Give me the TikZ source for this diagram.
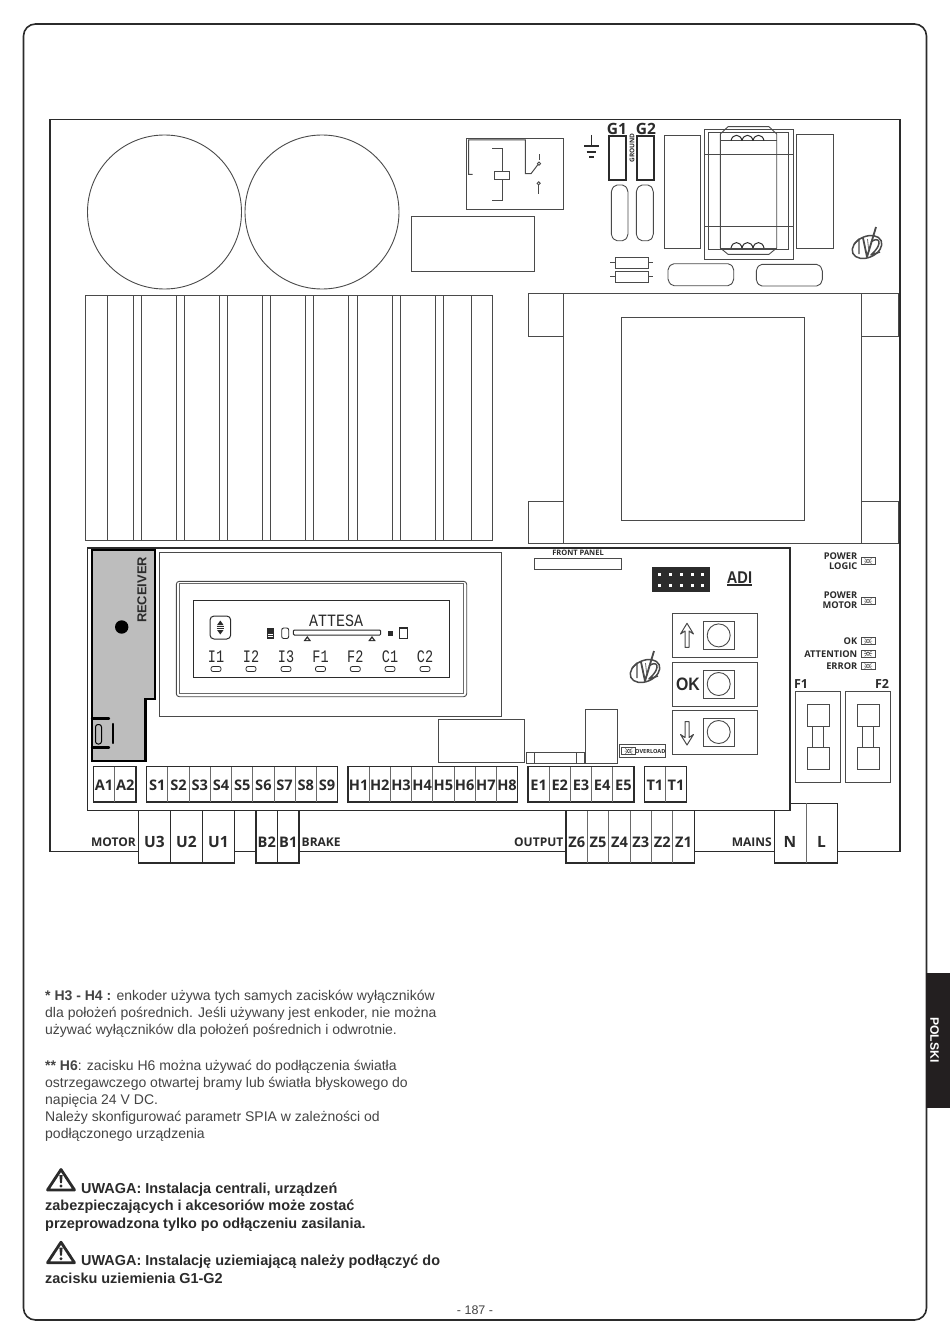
\documentclass[tikz,border=0pt]{standalone}
\usepackage{fontspec}
\setmainfont{Liberation Sans}
\newfontfamily\labfont{Open Sans}
\newfontfamily\lcdfont{Liberation Mono}
\definecolor{ink}{HTML}{2B2B2B}
\definecolor{line}{HTML}{4A4A4A}
\definecolor{soft}{HTML}{6A6A6A}
\definecolor{body}{HTML}{444444}
\definecolor{recv}{HTML}{BDBDBD}
\definecolor{tabfill}{HTML}{231F20}
\newcommand\fs[1]{\fontsize{#1}{#1}\selectfont}
\tikzset{
  thin line/.style={draw=line,line width=0.9pt},
  heavy line/.style={draw=ink,line width=1.5pt},
  lab/.style={inner sep=0pt,text=ink,font=\labfont\bfseries\fs{12}},
  term/.style={inner sep=0pt,text=ink,font=\labfont\bfseries\fs{14.6}},
  bigterm/.style={inner sep=0pt,text=ink,font=\labfont\bfseries\fs{15.5}},
  small lab/.style={inner sep=0pt,text=ink,font=\labfont\bfseries\fs{9.3}},
  lcd/.style={inner sep=0pt,text=ink,font=\lcdfont\fs{13.5}},
  para/.style={inner sep=0pt,anchor=north west,align=left,text=body,font=\fs{14}},
  warn/.style={inner sep=0pt,anchor=north west,align=left,text=ink,font=\bfseries\fs{14.45}},
}
\newcommand\termshift{1}
% terminal row: prefix, x0, y0, cell width, height, style, names
\newcommand\termrow[7]{%
  \foreach \lbl [count=\i] in {#7} {
    \pgfmathsetmacro\cx{#2+(\i-0.5)*#4}
    \pgfmathsetmacro\dx{#2+(\i-1)*#4}
    \pgfmathsetmacro\yc{#3+#5/2+\termshift}
    \pgfmathsetmacro\yb{#3+#5}
    \ifnum\i>1 \draw[draw=soft,line width=1pt] (\dx,#3) -- (\dx,\yb);\fi
    \node[#6] (#1\i) at (\cx,\yc) {\lbl};
  }
}
\newcommand\ledsym[2]{%
  \begin{scope}[shift={(#1,#2)}]
    \draw[draw=line,line width=0.6pt] (-7,-3.5) rectangle (7,3.5);
    \draw[draw=line,line width=0.6pt] (0,0) circle (1.8);
    \draw[draw=line,line width=0.5pt] (-3.5,-2.5)--(-1.5,-1.2) (3.5,-2.5)--(1.5,-1.2) (-3.5,2.5)--(-1.5,1.2) (3.5,2.5)--(1.5,1.2) (-4,0)--(-2,0) (4,0)--(2,0);
  \end{scope}}
\newcommand\vlogo[2]{%
  \begin{scope}[shift={(#1,#2)}]
    \draw[draw=line,line width=1.5pt,shift={(1,2)},rotate=24] (0,0) ellipse (15.5 and 10.5);
    \draw[draw=line,line width=1.4pt,line join=round] (-12,-1)--(-7,-6)--(-7,9);
    \draw[draw=line,line width=1.8pt,line join=round] (-3,-7)--(1,12)--(10,-18);
    \draw[draw=soft,line width=0.8pt] (1.5,-6)--(2.6,4);
    \draw[draw=line,line width=1.5pt,line join=round] (5,-3) .. controls (12,-9) and (19,-3) .. (5,10) -- (14,7);
  \end{scope}}
\newcommand\warnsign[2]{%
  \begin{scope}[shift={(#1,#2)}]
    \draw[draw=ink,line width=2.8pt,line join=round,fill=white] (15,1.5)--(1.5,22)--(28.5,22)--cycle;
    \fill[ink] (13.4,7)--(16.6,7)--(15.9,15)--(14.1,15)--cycle;
    \fill[ink] (15,18) circle (1.6);
  \end{scope}}
\begin{document}
\begin{tikzpicture}[x=1pt,y=-1pt]
\useasboundingbox (0,0) rectangle (950,1343);
\fill[white] (0,0) rectangle (950,1343);
% page frame
\draw[draw=ink,line width=1.6pt,rounded corners=12pt] (23.5,24) rectangle (926.5,1320);
\fill[tabfill] (926,973) rectangle (950,1108);
\node[inner sep=0pt,rotate=-90,text=white,font=\bfseries\fs{12.2}] (tab) at (934.5,1040) {POLSKI};
% outer board
\draw[heavy line] (50,119.5) rectangle (900,851.7);
% big capacitors
\draw[thin line] (164.5,212) circle (77);
\draw[thin line] (322,212) circle (77);
% relay
\draw[thin line] (466.3,138.3) rectangle (563,209.3);
\draw[draw=line,line width=1pt] (472.5,174.3)--(468.5,174.3)--(468.5,139.8)--(525.3,139.8)--(525.3,173.7)--(531,173.7)--(538,164.5);
\draw[thin line] (539,160)--(539,154);
\draw[thin line,fill=white] (539,163.7) circle (1.6);
\draw[thin line,fill=white] (538.7,183.3) circle (1.6);
\draw[thin line] (538.7,185)--(538.7,194.3);
\draw[thin line] (492.3,148.7)--(502,148.7)--(502,171.3);
\draw[thin line] (502,179.7)--(502,200)--(492.3,200);
\draw[thin line] (494.7,171.3) rectangle (509.3,179.7);
\draw[thin line] (411,216.7) rectangle (534.7,271);
% ground
\draw[draw=ink,line width=1.6pt] (591.3,135)--(591.3,146);
\draw[draw=ink,line width=2pt] (584,146)--(599.3,146);
\draw[draw=ink,line width=2pt] (586.7,151.7)--(596,151.7);
\draw[draw=ink,line width=2pt] (589.3,157.3)--(593.7,157.3);
% G1 G2
\draw[draw=ink,line width=2pt] (609,136.5) rectangle (625.5,180);
\draw[draw=ink,line width=2pt] (637,136.5) rectangle (654,180);
\node[term,font=\labfont\bfseries\fs{15.5}] (g1) at (617,128.5) {G1};
\node[term,font=\labfont\bfseries\fs{15.5}] (g2) at (646,128.5) {G2};
\node[inner sep=0pt,rotate=90,text=ink,font=\labfont\bfseries\fs{6.5}] (gnd) at (632,148) {GROUND};
\draw[thin line,rounded corners=2pt] (611.3,190)--(615,185)--(624.5,185)--(628,190)--(628,236)--(624.5,240.7)--(615,240.7)--(611.3,236)--cycle;
\draw[thin line,rounded corners=2pt] (636.3,190)--(640,185)--(650,185)--(653.3,190)--(653.3,236)--(650,240.7)--(640,240.7)--(636.3,236)--cycle;
% resistors
\draw[thin line] (615.3,257) rectangle (648,268);
\draw[thin line] (615.3,271.3) rectangle (648,282);
\draw[thin line] (610,262.5)--(615.3,262.5) (648,262.5)--(653,262.5) (610,276.7)--(615.3,276.7) (648,276.7)--(653,276.7);
\draw[thin line,rounded corners=2pt] (668,268)--(672,263.7)--(730,263.7)--(733.7,268)--(733.7,281)--(730,285.7)--(672,285.7)--(668,281)--cycle;
\draw[thin line,rounded corners=2pt] (756.3,269)--(760,264.3)--(818.5,264.3)--(822.3,269)--(822.3,281.5)--(818.5,286)--(760,286)--(756.3,281.5)--cycle;
% small transformer
\draw[thin line] (664,135) rectangle (700.7,248);
\draw[thin line] (796.3,134.7) rectangle (833,248);
\draw[thin line] (704,129.3) rectangle (793.3,259);
\draw[thin line] (708.7,132.3) rectangle (788,249.3);
\draw[thin line] (704,154)--(793.3,154) (704,226.7)--(793.3,226.7);
\draw[thin line] (720.3,134)--(728,126.7)--(769,126.7)--(776.7,134)--(776.7,248)--(769,254.3)--(728,254.3)--(720.3,248)--cycle;
\draw[thin line] (720.3,140.7)--(776.7,140.7) (720.3,248)--(776.7,248);
\foreach \coilx in {731,742,753}{
  \draw[draw=ink,line width=1pt] (\coilx,140.7) .. controls (\coilx+1.5,133.5) and (\coilx+9.5,133.5) .. (\coilx+11,140.7);
  \draw[draw=ink,line width=1pt] (\coilx,248) .. controls (\coilx+1.5,240.8) and (\coilx+9.5,240.8) .. (\coilx+11,248);
}
\vlogo{866}{245}
% heat sink
\draw[thin line] (85.7,295.7) rectangle (492.7,540);
\foreach \hx in {107,133,141.3,176.3,184.3,219.3,227.7,262.3,270.7,305.7,313.7,348.7,357,392,400,435,443.3,471.7}
  \draw[thin line] (\hx,295.7)--(\hx,540);
% mains transformer
\draw[thin line] (563,293) rectangle (861,543);
\draw[thin line] (528,293) rectangle (563,336);
\draw[thin line] (528,501) rectangle (563,543);
\draw[thin line] (861,293) rectangle (898,336);
\draw[thin line] (861,501) rectangle (898,543);
\draw[thin line] (621,317) rectangle (804,520);
% outer terminal blocks
\draw[heavy line,fill=white] (774.3,803.3) rectangle (837.7,863);
\draw[draw=soft,line width=1pt] (806,803.3)--(806,863);
\node[bigterm] (tn) at (790,842) {N};
\node[bigterm] (tl) at (821.5,842) {L};
\draw[heavy line,fill=white] (138.7,810.7) rectangle (234.3,863);
\draw[draw=ink,line width=1pt] (170.7,810.7)--(170.7,863) (202.3,810.7)--(202.3,863);
\node[bigterm] (tu3) at (154.5,842) {U3};
\node[bigterm] (tu2) at (186.5,842) {U2};
\node[bigterm] (tu1) at (218.5,842) {U1};
\draw[heavy line,fill=white] (256,810.7) rectangle (299,863);
\draw[draw=ink,line width=1pt] (277.7,810.7)--(277.7,863);
\node[term] (tb2) at (266.8,842) {B2};
\node[term] (tb1) at (288.3,842) {B1};
\draw[heavy line,fill=white] (566,810.7) rectangle (694.3,863);
\renewcommand\termshift{5.2}
\termrow{tz}{566}{810.7}{21.38}{52.3}{term}{Z6,Z5,Z4,Z3,Z2,Z1}
\renewcommand\termshift{1}
\node[lab,anchor=east] (lmotor) at (136,842) {MOTOR};
\node[lab,anchor=west] (lbrake) at (301.5,842) {BRAKE};
\node[lab,anchor=east] (loutput) at (563.5,842) {OUTPUT};
\node[lab,anchor=east] (lmains) at (772,842) {MAINS};
% control board
\draw[draw=ink,line width=1.5pt,fill=white] (87.3,548) rectangle (790,810.7);
% receiver
\draw[draw=black,line width=2.6pt,fill=recv] (92,550)--(155,550)--(155,699)--(145.7,699)--(145.7,761)--(92,761)--cycle;
\fill[black] (121.7,627) circle (6.7);
\node[inner sep=0pt,rotate=90,text=ink,font=\bfseries\fs{12.9}] (recvlab) at (142,590) {RECEIVER};
\draw[draw=black,line width=2.4pt,line cap=round] (92,718.5)--(109,718.5) (92,747.5)--(109,747.5) (113,724)--(113,743);
\draw[draw=black,line width=1pt,fill=recv,rounded corners=2.5pt] (95.5,724.5) rectangle (101.5,744);
% LCD
\draw[thin line] (159.3,552.7) rectangle (501.7,716.7);
\draw[thin line,rounded corners=3pt] (176.3,581.3) rectangle (466.7,696.7);
\draw[draw=soft,line width=0.7pt] (179,583.5)--(463.7,583.5)--(463.7,693.5)--(179,693.5)--cycle;
\draw[draw=ink,line width=1pt] (193.3,600.7) rectangle (449,677.3);
\node[lcd] (attesa) at (336,620.7) {\fs{15}\scalebox{1}[1.15]{ATTESA}};
\foreach \lb/\lx in {I1/216,I2/251,I3/286,F1/320.5,F2/355.3,C1/390,C2/425}{
  \node[lcd] (l\lb) at (\lx,656.7) {\scalebox{1}[1.3]{\lb}};
  \draw[draw=ink,line width=0.8pt,rounded corners=2pt] (\lx-5,666.5) rectangle (\lx+5,671.5);
}
\draw[draw=ink,line width=1pt,rounded corners=4pt] (210,616) rectangle (230.7,639);
\fill[ink] (220.3,620.5)--(223.5,625)--(217.1,625)--cycle (220.3,634.5)--(223.5,630)--(217.1,630)--cycle;
\draw[draw=ink,line width=0.9pt] (216.5,626.6)--(224,626.6) (216.5,628.4)--(224,628.4);
\fill[ink] (266.7,627.7) rectangle (273.7,639);
\draw[draw=white,line width=0.4pt] (267.5,634)--(273,634) (267.5,636)--(273,636);
\draw[draw=ink,line width=0.9pt,rounded corners=2pt] (281.7,628) rectangle (288.7,638.5);
\draw[draw=ink,line width=1pt,rounded corners=1pt] (293.3,630) rectangle (380.7,635);
\fill[ink] (307.3,636)--(311,641)--(303.6,641)--cycle (372,636)--(375.7,641)--(368.3,641)--cycle;
\fill[white] (307.3,638.3)--(308.6,640)--(306,640)--cycle (372,638.3)--(373.3,640)--(370.7,640)--cycle;
\fill[ink] (387.5,630.5) rectangle (392.5,635.5);
\draw[draw=ink,line width=1.1pt] (399.3,628) rectangle (407.7,638.7);
% front panel
\node[small lab,font=\labfont\bfseries\fs{7.5}] (fplab) at (578,553) {FRONT PANEL};
\draw[thin line] (534,558.3) rectangle (621.3,569.7);
\fill[ink] (652.3,566.7) rectangle (710.3,592.3);
\foreach \cxa in {659.7,670.3,681,692,702.7}{
  \fill[white] (\cxa-1.5,572.8) rectangle (\cxa+1.5,575.8);
  \fill[white] (\cxa-1.5,583.5) rectangle (\cxa+1.5,586.5);
}
\node[inner sep=0pt,text=ink,font=\bfseries\fs{17}] (adi) at (739.5,577.5) {\scalebox{0.86}[1]{ADI}};
\draw[draw=ink,line width=1.3pt] (727,585)--(752,585);
% buttons
\foreach \by in {613.7,662.3,710.3}{
  \draw[thin line] (672,\by) rectangle (757,\by+44);
  \draw[thin line] (703.3,\by+7.7) rectangle (734,\by+35.7);
  \draw[thin line] (718.7,\by+21.7) circle (11.5);
}
\draw[draw=line,line width=1pt,line join=round] (687,623.3)--(680.5,634)--(685,631)--(685,647.3)--(689,647.3)--(689,631)--(693.5,634)--cycle;
\draw[draw=line,line width=1pt,line join=round] (687,745)--(680.5,734.5)--(685,737.5)--(685,721.7)--(689,721.7)--(689,737.5)--(693.5,734.5)--cycle;
\node[inner sep=0pt,text=ink,font=\bfseries\fs{18}] (oklab) at (688,684) {\scalebox{0.88}[1]{OK}};
\vlogo{644}{669}
% LEDs
\node[small lab,anchor=east] (lpl1) at (857.5,556) {POWER};
\node[small lab,anchor=east] (lpl2) at (857.5,566.3) {LOGIC};
\ledsym{868}{561}
\node[small lab,anchor=east] (lpm1) at (857.5,595.5) {POWER};
\node[small lab,anchor=east] (lpm2) at (857.5,605.5) {MOTOR};
\ledsym{868}{601}
\node[small lab,anchor=east] (lok) at (857.5,641) {OK};
\ledsym{868}{641}
\node[small lab,anchor=east] (lat) at (857.5,653.7) {ATTENTION};
\ledsym{868}{653.7}
\node[small lab,anchor=east] (ler) at (857.5,666) {ERROR};
\ledsym{868}{666}
% fuses
\node[term,font=\labfont\bfseries\fs{12.5}] (f1) at (801,684) {F1};
\node[term,font=\labfont\bfseries\fs{12.5}] (f2) at (882,684) {F2};
\foreach \fa/\fb in {795.3/807,845.7/857}{
  \draw[thin line] (\fa,691.7) rectangle (\fa+45,782.3);
  \draw[thin line] (\fb,704.3) rectangle (\fb+22,726.3);
  \draw[thin line] (\fb,747.7) rectangle (\fb+22,769.7);
  \draw[thin line] (\fb+5.7,726.3)--(\fb+5.7,747.7) (\fb+16.3,726.3)--(\fb+16.3,747.7);
}
% misc components
\draw[thin line] (438.7,719.7) rectangle (524.3,762.3);
\draw[thin line] (526.7,752) rectangle (584.7,763);
\draw[thin line] (534,752)--(534,763) (576.7,752)--(576.7,763);
\draw[thin line] (585,709.3) rectangle (617.7,763.7);
\draw[thin line] (619.3,744) rectangle (665.7,757.3);
\ledsym{628.7}{751}
\node[inner sep=0pt,text=ink,font=\labfont\bfseries\fs{5.6}] (ovl) at (650.3,751) {OVERLOAD};
% inner terminal rows
\draw[heavy line] (93.3,766.7) rectangle (136,802);
\termrow{ta}{93.3}{766.7}{21.35}{35.3}{term}{A1,A2}
\draw[heavy line] (146.7,766.7) rectangle (337.7,802);
\termrow{ts}{146.7}{766.7}{21.22}{35.3}{term}{S1,S2,S3,S4,S5,S6,S7,S8,S9}
\draw[heavy line] (348,766.7) rectangle (517.7,802);
\termrow{th}{348}{766.7}{21.21}{35.3}{term}{H1,H2,H3,H4,H5,H6,H7,H8}
\draw[heavy line] (528,766.7) rectangle (634,802);
\termrow{te}{528}{766.7}{21.2}{35.3}{term}{E1,E2,E3,E4,E5}
\draw[heavy line] (644.3,766.7) rectangle (686.7,802);
\termrow{tt}{644.3}{766.7}{21.2}{35.3}{term}{T1,T1}
% notes
\node[para] (note1) at (45,989.5) {\textbf{* H3 - H4 :} enkoder używa tych samych zacisków wyłączników\\[3pt]dla położeń pośrednich. Jeśli używany jest enkoder, nie można\\[3pt]używać wyłączników dla położeń pośrednich i odwrotnie.};
\node[para] (note2) at (45,1059.8) {\textbf{** H6}: zacisku H6 można używać do podłączenia światła\\[3pt]ostrzegawczego otwartej bramy lub światła błyskowego do\\[3pt]napięcia 24 V DC.\\[3pt]Należy skonfigurować parametr SPIA w zależności od\\[3pt]podłączonego urządzenia};
\warnsign{46}{1168}
\node[warn] (warn1) at (45,1182.5) {\hspace*{36pt}UWAGA: Instalacja centrali, urządzeń\\[3pt]zabezpieczających i akcesoriów może zostać\\[3pt]przeprowadzona tylko po odłączeniu zasilania.};
\warnsign{46}{1240.7}
\node[warn] (warn2) at (45,1255) {\hspace*{36pt}UWAGA: Instalację uziemiającą należy podłączyć do\\[3pt]zacisku uziemienia G1-G2};
\node[inner sep=0pt,text=body,font=\fs{12.5}] (pagenum) at (475,1310) {- 187 -};
\end{tikzpicture}
\end{document}
